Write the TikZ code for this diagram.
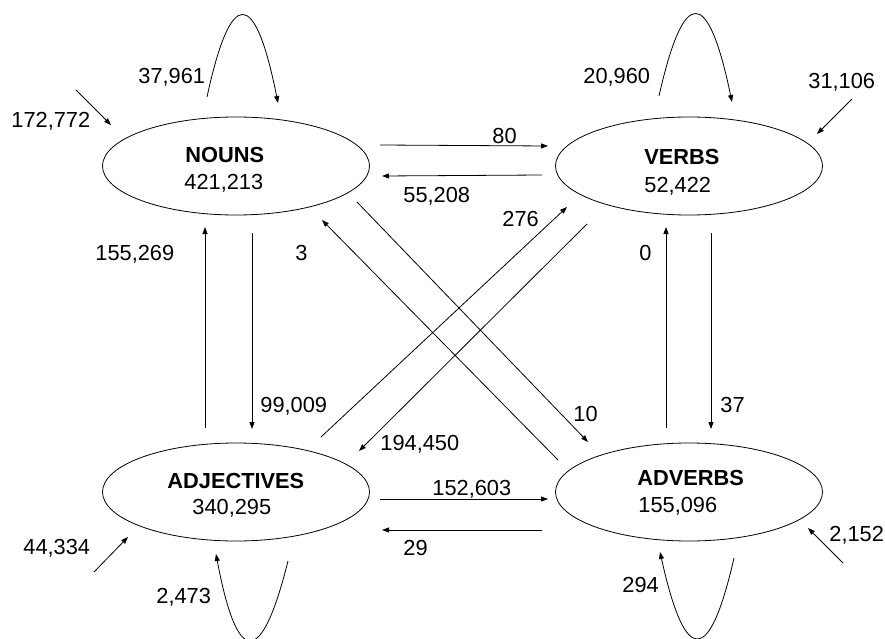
\documentclass[tikz,border=0pt]{standalone}
\usepackage{fontspec}
\setmainfont{Liberation Sans}
\usetikzlibrary{arrows.meta,shapes.geometric}
\begin{document}
\begin{tikzpicture}[x=1pt,y=-1pt,line width=0.8pt,
  arr/.style={-{Triangle[length=7pt,width=5pt]}},
  posbox/.style={draw,ellipse,minimum width=267pt,minimum height=98pt,inner sep=0pt},
  lbl/.style={anchor=base west,inner sep=0pt,font=\fontsize{21.8}{24}\selectfont},
  bname/.style={lbl,font=\fontsize{21.8}{24}\selectfont\bfseries}]
\useasboundingbox (0,0) rectangle (885,639);
% ellipses
\node[posbox] (nouns) at (236,166) {};
\node[posbox] (verbs) at (689,166) {};
\node[posbox] (adjs) at (236,492) {};
\node[posbox] (advs) at (689,492) {};
% node texts
\node[bname] (tn) at (185,162.5) {NOUNS};
\node[lbl] (cn) at (184,189.5) {421,213};
\node[bname] (tv) at (644,164.5) {VERBS};
\node[lbl] (cv) at (644,192.5) {52,422};
\node[bname] (ta) at (167,488.5) {ADJECTIVES};
\node[lbl] (ca) at (192,514.5) {340,295};
\node[bname] (tav) at (637,485.5) {ADVERBS};
\node[lbl] (cav) at (638,512.5) {155,096};
% endpoints
\coordinate (nl1) at (207,97);   \coordinate (nl2) at (278,103);
\coordinate (vl1) at (659,96);   \coordinate (vl2) at (732,102);
\coordinate (al1) at (288,561);  \coordinate (al2) at (216,554);
\coordinate (dl1) at (734,558);  \coordinate (dl2) at (660,552);
\coordinate (ni1) at (76,90);    \coordinate (ni2) at (111,125);
\coordinate (vi1) at (852,99);   \coordinate (vi2) at (817,134);
\coordinate (ai1) at (94,572);   \coordinate (ai2) at (128,537);
\coordinate (di1) at (843,563);  \coordinate (di2) at (808,528);
\coordinate (nv1) at (380,145);  \coordinate (nv2) at (548,146);
\coordinate (vn1) at (542,175);  \coordinate (vn2) at (382,176);
\coordinate (an1) at (205,428);  \coordinate (an2) at (205,227);
\coordinate (na1) at (252,233);  \coordinate (na2) at (252,429);
\coordinate (dn1) at (558,460);  \coordinate (dn2) at (322,220);
\coordinate (nd1) at (357,202);  \coordinate (nd2) at (588,442);
\coordinate (av1) at (321,437);  \coordinate (av2) at (567,207);
\coordinate (va1) at (587,224);  \coordinate (va2) at (359,451);
\coordinate (dv1) at (666,428);  \coordinate (dv2) at (666,227);
\coordinate (vd1) at (711,233);  \coordinate (vd2) at (711,429);
\coordinate (ad1) at (380,499);  \coordinate (ad2) at (548,499);
\coordinate (da1) at (542,530);  \coordinate (da2) at (382,530);
% loops
\draw[arr] (nl1) .. controls (231,-14) and (255,-12) .. (nl2);
\draw[arr] (vl1) .. controls (684,-15) and (708,-13) .. (vl2);
\draw[arr] (al1) .. controls (261,669) and (237,666) .. (al2);
\draw[arr] (dl1) .. controls (709,667) and (685,665) .. (dl2);
% incoming
\draw[arr] (ni1) -- (ni2);
\draw[arr] (vi1) -- (vi2);
\draw[arr] (ai1) -- (ai2);
\draw[arr] (di1) -- (di2);
% transitions
\draw[arr] (nv1) -- (nv2);
\draw[arr] (vn1) -- (vn2);
\draw[arr] (an1) -- (an2);
\draw[arr] (na1) -- (na2);
\draw[arr] (dn1) -- (dn2);
\draw[arr] (nd1) -- (nd2);
\draw[arr] (av1) -- (av2);
\draw[arr] (va1) -- (va2);
\draw[arr] (dv1) -- (dv2);
\draw[arr] (vd1) -- (vd2);
\draw[arr] (ad1) -- (ad2);
\draw[arr] (da1) -- (da2);
% labels
\node[lbl] (l1) at (138,83.5) {37,961};
\node[lbl] (l2) at (11,127.5) {172,772};
\node[lbl] (l3) at (95,260.5) {155,269};
\node[lbl] (l4) at (295,260.5) {3};
\node[lbl] (l5) at (403,202.5) {55,208};
\node[lbl] (l6) at (492,143.5) {80};
\node[lbl] (l7) at (502,226.5) {276};
\node[lbl] (l8) at (583,83.5) {20,960};
\node[lbl] (l9) at (808,88.5) {31,106};
\node[lbl] (l10) at (639,260.5) {0};
\node[lbl] (l11) at (260,412.5) {99,009};
\node[lbl] (l12) at (380,450.5) {194,450};
\node[lbl] (l13) at (432,495.5) {152,603};
\node[lbl] (l14) at (403,555.5) {29};
\node[lbl] (l15) at (23,554.5) {44,334};
\node[lbl] (l16) at (156,603.5) {2,473};
\node[lbl] (l17) at (573,421.5) {10};
\node[lbl] (l18) at (720,412.5) {37};
\node[lbl] (l19) at (622,592.5) {294};
\node[lbl] (l20) at (829,541.5) {2,152};
\end{tikzpicture}
\end{document}
